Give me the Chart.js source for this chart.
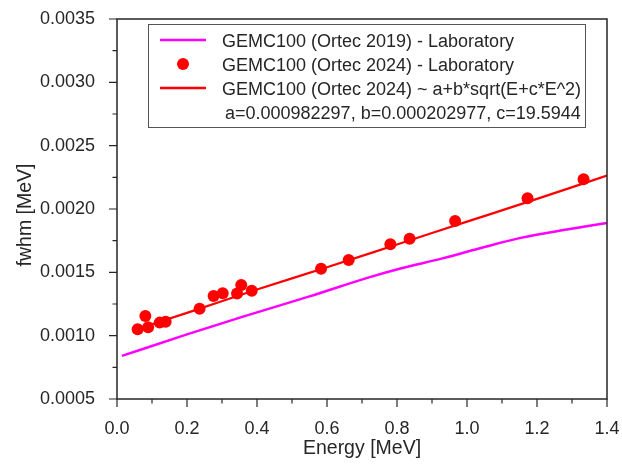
<!DOCTYPE html>
<html><head><meta charset="utf-8">
<script src="https://cdn.jsdelivr.net/npm/chart.js@4"></script>
<style>html,body{margin:0;padding:0;background:#fff;}</style>
</head><body>
<canvas id="c" width="622" height="464"></canvas>
<script>
// ---- data ----
const energyMeasured2024 = [0.059, 0.081, 0.089, 0.122, 0.139, 0.236, 0.276, 0.302, 0.343, 0.355, 0.385, 0.583, 0.662, 0.781, 0.836, 0.966, 1.173, 1.333];
const fwhmMeasured2024   = [0.00105, 0.001156, 0.001066, 0.001103, 0.00111, 0.001213, 0.001314, 0.001335, 0.001332, 0.0014, 0.001355, 0.001529, 0.001598, 0.001722, 0.001766, 0.001906, 0.002085, 0.002235];
const energyLab2019 = [0.014, 0.2, 0.36, 0.55, 0.72, 0.81, 0.93, 1.05, 1.15, 1.29, 1.4];
const fwhmLab2019   = [0.00084, 0.00101, 0.00115, 0.00131, 0.00146, 0.00153, 0.00161, 0.0017, 0.00177, 0.00184, 0.00189];
const energyFit2024 = [0.06, 0.2, 0.4, 0.6, 0.8, 1.0, 1.2, 1.4];
const fwhmFit2024   = [0.001055, 0.00118, 0.001365, 0.00154, 0.00172, 0.0019, 0.00208, 0.002264];
const seriesNames = [
  'GEMC100 (Ortec 2019) - Laboratory',
  'GEMC100 (Ortec 2024) - Laboratory',
  'GEMC100 (Ortec 2024) ~ a+b*sqrt(E+c*E^2)'
];
const fitParamsText = 'a=0.000982297, b=0.000202977, c=19.5944';
const xTickValues = [0, 0.2, 0.4, 0.6, 0.8, 1.0, 1.2, 1.4];
const yTickValues = [0.0005, 0.001, 0.0015, 0.002, 0.0025, 0.003, 0.0035];
const xTitle = 'Energy [MeV]';
const yTitle = 'fwhm [MeV]';

const FONT = '"Liberation Sans", Arial, sans-serif';
const TXT = '#262626';
const AX = '#262626';
const COL2019 = '#ff00ff';
const COL2024 = '#ff0000';

const toXY = (xs, ys) => xs.map((x, i) => ({x: x, y: ys[i]}));

const decor = {
  id: 'decor',
  afterDraw(chart) {
    const ctx = chart.ctx, a = chart.chartArea;
    const xs = chart.scales.x, ys = chart.scales.y;
    ctx.save();
    // frame
    ctx.strokeStyle = AX; ctx.lineWidth = 1.5;
    ctx.strokeRect(a.left, a.top, a.right - a.left, a.bottom - a.top);
    // ticks
    ctx.lineWidth = 1.2;
    ctx.beginPath();
    yTickValues.forEach((v, i) => {
      const p = ys.getPixelForValue(v);
      ctx.moveTo(a.left - 8, p); ctx.lineTo(a.left, p);
      if (i < yTickValues.length - 1) {
        const m = ys.getPixelForValue((v + yTickValues[i + 1]) / 2);
        ctx.moveTo(a.left - 4.5, m); ctx.lineTo(a.left, m);
      }
    });
    xTickValues.forEach((v, i) => {
      const p = xs.getPixelForValue(v);
      ctx.moveTo(p, a.bottom); ctx.lineTo(p, a.bottom + 8);
      if (i < xTickValues.length - 1) {
        const m = xs.getPixelForValue((v + xTickValues[i + 1]) / 2);
        ctx.moveTo(m, a.bottom); ctx.lineTo(m, a.bottom + 4.5);
      }
    });
    ctx.stroke();
    // y title
    ctx.fillStyle = TXT;
    ctx.font = '19.5px ' + FONT;
    ctx.textAlign = 'center'; ctx.textBaseline = 'middle';
    ctx.translate(26, 215); ctx.rotate(-Math.PI / 2);
    ctx.fillText(yTitle, 0, 0);
    ctx.restore();

    // legend
    ctx.save();
    const L = 148.5, T = 24.5, W = 437, H = 103;
    ctx.fillStyle = '#fff';
    ctx.fillRect(L, T, W, H);
    ctx.strokeStyle = '#555'; ctx.lineWidth = 1;
    ctx.strokeRect(L, T, W, H);
    const rows = [40, 64, 88, 112];
    ctx.lineWidth = 2.5;
    ctx.strokeStyle = COL2019;
    ctx.beginPath(); ctx.moveTo(160, rows[0]); ctx.lineTo(206, rows[0]); ctx.stroke();
    ctx.fillStyle = COL2024;
    ctx.beginPath(); ctx.arc(183, rows[1], 6, 0, Math.PI * 2); ctx.fill();
    ctx.strokeStyle = COL2024;
    ctx.beginPath(); ctx.moveTo(160, rows[2]); ctx.lineTo(206, rows[2]); ctx.stroke();
    ctx.fillStyle = TXT;
    ctx.font = '18px ' + FONT;
    ctx.textAlign = 'left'; ctx.textBaseline = 'alphabetic';
    ctx.fillText(seriesNames[0], 222, rows[0] + 7);
    ctx.fillText(seriesNames[1], 222, rows[1] + 7);
    ctx.fillText(seriesNames[2], 222, rows[2] + 7);
    ctx.fillText(fitParamsText, 225, rows[3] + 7);
    ctx.restore();
  }
};

new Chart(document.getElementById('c'), {
  type: 'scatter',
  data: {
    datasets: [
      {
        label: seriesNames[1],
        data: toXY(energyMeasured2024, fwhmMeasured2024),
        showLine: false,
        backgroundColor: COL2024,
        borderColor: COL2024,
        pointRadius: 6,
        pointBorderWidth: 0,
        order: 0
      },
      {
        label: seriesNames[2],
        data: toXY(energyFit2024, fwhmFit2024),
        showLine: true,
        borderColor: COL2024,
        borderWidth: 2.2,
        pointRadius: 0,
        cubicInterpolationMode: 'monotone',
        order: 1
      },
      {
        label: seriesNames[0],
        data: toXY(energyLab2019, fwhmLab2019),
        showLine: true,
        borderColor: COL2019,
        borderWidth: 2.5,
        pointRadius: 0,
        cubicInterpolationMode: 'monotone',
        order: 2
      }
    ]
  },
  options: {
    responsive: false,
    animation: false,
    devicePixelRatio: 1,
    layout: {padding: {left: 0, right: 15, top: 19, bottom: 0}},
    plugins: {legend: {display: false}, tooltip: {enabled: false}},
    scales: {
      x: {
        type: 'linear', min: 0, max: 1.4,
        afterBuildTicks: s => { s.ticks = xTickValues.map(v => ({value: v})); },
        afterFit: s => { s.height = 65; s.paddingLeft = 0; s.paddingRight = 0; },
        grid: {display: false},
        border: {display: false},
        ticks: {
          padding: 11, color: TXT, font: {family: FONT, size: 18},
          maxRotation: 0, autoSkip: false,
          callback: v => Number(v).toFixed(1)
        },
        title: {display: true, text: xTitle, color: TXT, font: {family: FONT, size: 19.5}, padding: {top: 0, bottom: 4}}
      },
      y: {
        type: 'linear', min: 0.0005, max: 0.0035,
        afterBuildTicks: s => { s.ticks = yTickValues.map(v => ({value: v})); },
        afterFit: s => { s.width = 117; s.paddingTop = 0; s.paddingBottom = 0; },
        grid: {display: false},
        border: {display: false},
        ticks: {
          padding: 14, color: TXT, font: {family: FONT, size: 18},
          autoSkip: false,
          callback: v => Number(v).toFixed(4)
        }
      }
    }
  },
  plugins: [decor]
});
</script>
</body></html>
